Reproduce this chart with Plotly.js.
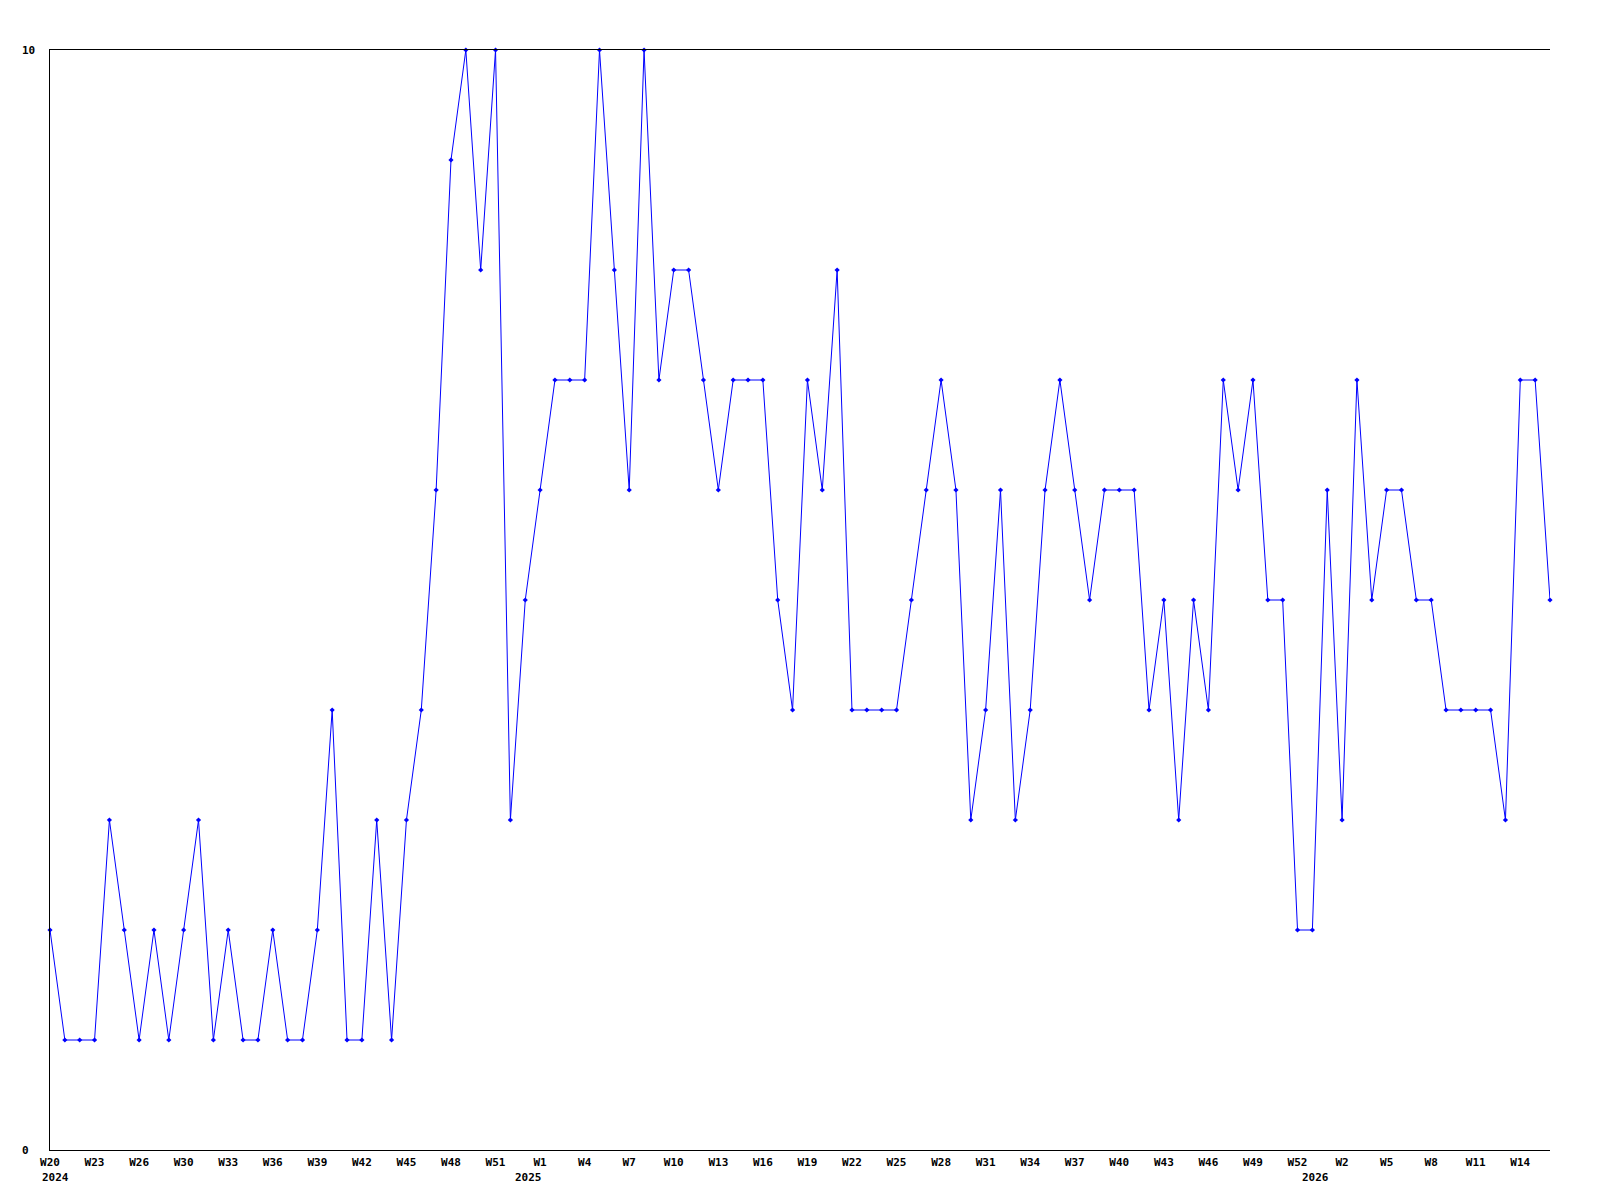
<!DOCTYPE html>
<html>
<head>
<meta charset="utf-8">
<script src="https://cdn.plot.ly/plotly-3.0.1.min.js"></script>
<style>html,body{margin:0;padding:0;background:#fff;}#chart{width:1600px;height:1200px;}</style>
</head>
<body>
<div id="chart"></div>
<script>
// weekly values, one per week starting W20 2024
const values = [
  2,1,1,1,3,2,1,2,1,2,
  3,1,2,1,1,2,1,1,2,4,
  1,1,3,1,3,4,6,9,10,8,
  10,3,5,6,7,7,7,10,8,6,
  10,7,8,8,7,6,7,7,7,5,
  4,7,6,8,4,4,4,4,5,6,
  7,6,3,4,6,3,4,6,7,6,
  5,6,6,6,4,5,3,5,4,7,
  6,7,5,5,2,2,6,3,7,5,
  6,6,5,5,4,4,4,4,3,7,
  7,5
];
const tickLabels = ['W20','W23','W26','W30','W33','W36','W39','W42','W45','W48','W51',
  'W1','W4','W7','W10','W13','W16','W19','W22','W25','W28','W31','W34','W37','W40','W43','W46','W49','W52',
  'W2','W5','W8','W11','W14'];
const tickIndex = tickLabels.map((_, i) => i * 3);
const yearLabels = ['2024','2025','2026'];
const yearPos = [-0.7, 32.2, 85.2];
const yearAnchor = ['left','center','center'];
const yTickVals = [0, 10];

const xs = values.map((_, i) => i);
const nSteps = values.length - 1;
const fontFam = '"DejaVu Sans Mono", "Liberation Mono", monospace';
const lblFont = {family: fontFam, size: 11, color: '#000', weight: 'bold'};

const annotations = [];
yearLabels.forEach((t, i) => annotations.push({
  text: t, x: yearPos[i] / nSteps, xref: 'paper', y: -27 / 1100, yref: 'paper', showarrow: false,
  xanchor: yearAnchor[i], yanchor: 'middle', font: lblFont
}));
yTickVals.forEach(v => annotations.push({
  text: String(v), x: -0.02, xref: 'paper', y: v, yref: 'y', showarrow: false,
  xanchor: 'left', yanchor: 'middle', font: lblFont
}));

Plotly.newPlot('chart', [{
  x: xs, y: values, type: 'scatter', mode: 'lines+markers',
  line: {color: '#0000ff', width: 1},
  marker: {symbol: 'diamond', size: 4, color: '#0000ff'},
  cliponaxis: false, hoverinfo: 'skip'
}], {
  width: 1600, height: 1200,
  margin: {l: 50, r: 50, t: 50, b: 50},
  paper_bgcolor: '#fff', plot_bgcolor: '#fff',
  showlegend: false,
  font: lblFont,
  xaxis: {
    range: [0, nSteps], showgrid: false, zeroline: false,
    showline: true, linecolor: '#000', linewidth: 1, mirror: true,
    tickmode: 'array', tickvals: tickIndex, ticktext: tickLabels,
    ticks: '', tickfont: lblFont, ticklabelstandoff: 2
  },
  yaxis: {
    range: [0, 10], showgrid: false, zeroline: false,
    showline: true, linecolor: '#000', linewidth: 1,
    showticklabels: false, ticks: ''
  },
  annotations: annotations
}, {staticPlot: true});
</script>
</body>
</html>
